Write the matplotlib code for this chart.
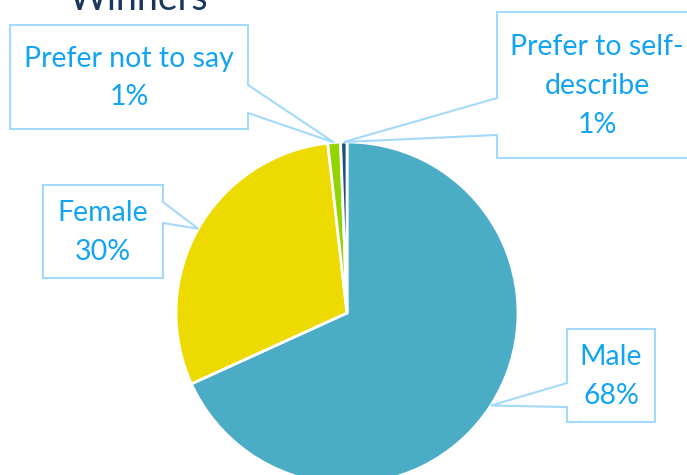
import matplotlib
matplotlib.use('Agg')
import matplotlib.pyplot as plt
import numpy as np
from matplotlib.patches import Polygon

categories = ['Male', 'Female', 'Prefer not to say', 'Prefer to self-describe']
values = [68.2, 30.0, 1.2, 0.6]
label_text = ['Male', 'Female', 'Prefer not to say', 'Prefer to self-\ndescribe']
colors = ['#4BACC6', '#EDDA00', '#92D400', '#1F4E79']

W, H = 687, 475
fig = plt.figure(figsize=(W / 100, H / 100), dpi=100)
fig.patch.set_facecolor('white')
ax = fig.add_axes([0, 0, 1, 1])

def py(y):
    # pixel row (from top) -> data y
    return H - y

cx, cy, R = 347, py(313), 171
wedges, _ = ax.pie(values, colors=colors, startangle=90, counterclock=False,
                   center=(cx, cy), radius=R,
                   wedgeprops=dict(edgecolor='white', linewidth=2))
ax.set_xlim(0, W)
ax.set_ylim(0, H)
ax.set_aspect('equal')
ax.axis('off')

LABEL_COL = '#12A4F2'
EDGE_COL = '#A3DAFA'

# box (left, top, right, bottom) in pixels, side of pointer, pointer rows
boxes = [
    dict(box=(567, 329, 655, 422), side='left', p=(383, 407)),
    dict(box=(43, 185, 163, 278), side='right', p=(202, 223)),
    dict(box=(10, 25, 248, 129), side='right', p=(85, 113)),
    dict(box=(497, 12, 700, 158), side='left', p=(98, 135)),
]

for i, (w, b) in enumerate(zip(wedges, boxes)):
    mid = np.deg2rad((w.theta1 + w.theta2) / 2)
    tx, ty = cx + R * np.cos(mid), cy + R * np.sin(mid)
    l, t, r, bt = b['box']
    p1, p2 = b['p']
    if b['side'] == 'right':
        pts = [(l, py(t)), (r, py(t)), (r, py(p1)), (tx, ty), (r, py(p2)),
               (r, py(bt)), (l, py(bt))]
    else:
        pts = [(l, py(t)), (r, py(t)), (r, py(bt)), (l, py(bt)), (l, py(p2)),
               (tx, ty), (l, py(p1))]
    ax.add_patch(Polygon(pts, closed=True, facecolor='white', edgecolor=EDGE_COL,
                         linewidth=1.5, zorder=5, clip_on=False))
    pct = '%.0f%%' % (values[i] / sum(values) * 100)
    xc = (l + r) / 2 if i != 3 else 597
    ax.text(xc, py((t + bt) / 2 + 1), label_text[i] + '\n' + pct, ha='center', va='center',
            fontsize=20.5, color=LABEL_COL, family='Lato', linespacing=1.6, zorder=6)

# title (mostly cut off at the top)
ax.text(138, py(10), 'Winners', ha='center', va='baseline', fontsize=27,
        color='#17375E', family='Lato', zorder=6)

plt.savefig('out.png', dpi=100, facecolor='white')
